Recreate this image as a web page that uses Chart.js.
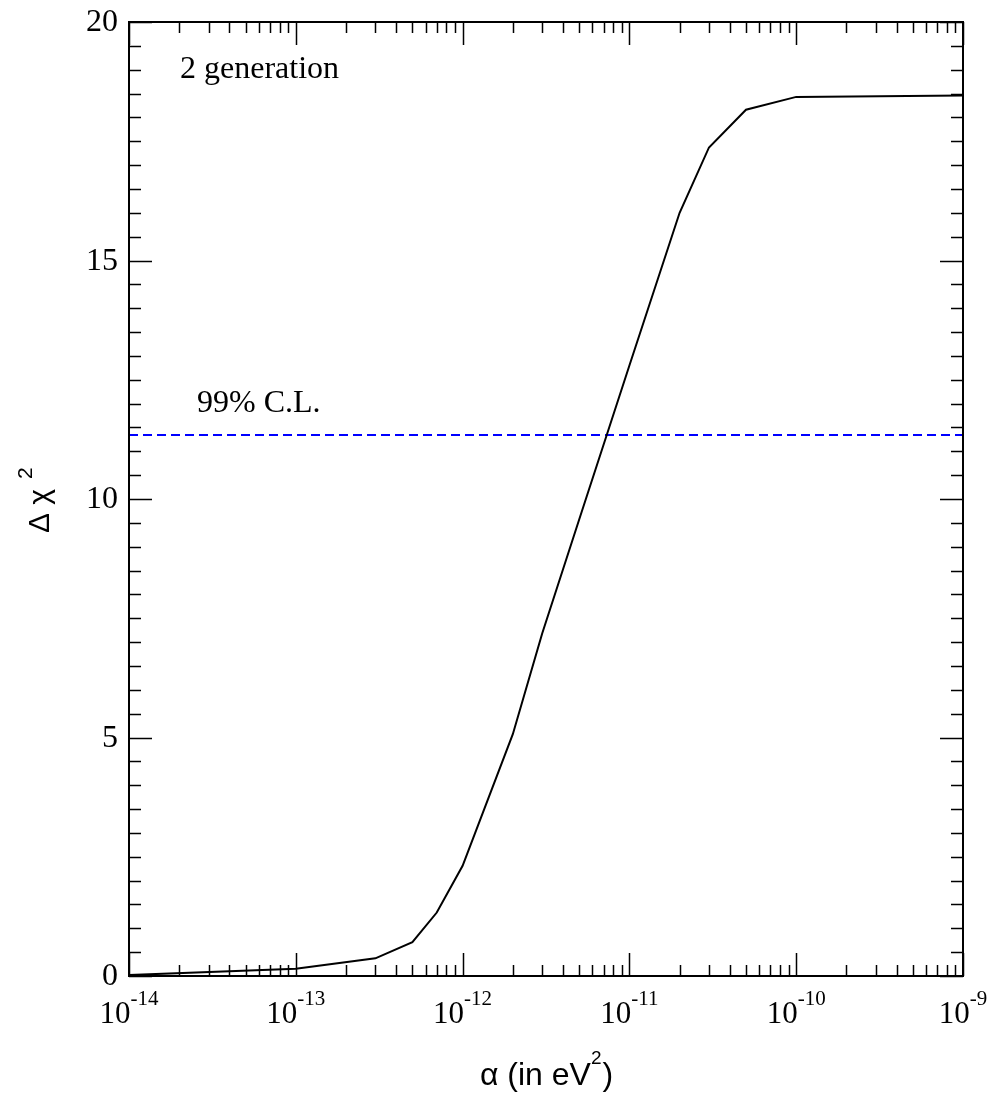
<!DOCTYPE html>
<html>
<head>
<meta charset="utf-8">
<script src="https://cdn.jsdelivr.net/npm/chart.js@4/dist/chart.umd.min.js"></script>
<style>
  html, body { margin: 0; padding: 0; background: #fff; }
  canvas { display: block; }
</style>
</head>
<body>
<canvas id="chart" width="994" height="1100"></canvas>
<script>
// curve: delta chi^2 vs alpha (eV^2)
const alphaVals = [1e-14, 1e-13, 3e-13, 5e-13, 7e-13, 1e-12, 2e-12, 3e-12, 5e-12, 1e-11, 2e-11, 3e-11, 5e-11, 1e-10, 1e-9];
const chi2Vals  = [0.02, 0.15, 0.37, 0.71, 1.33, 2.31, 5.07, 7.18, 9.57, 12.8, 16.0, 17.37, 18.16, 18.43, 18.46];

const clLevel = 11.34;
const clLabel = '99% C.L.';
const panelLabel = '2 generation';

const xDecades = [-14, -13, -12, -11, -10, -9];
const yMajor = [0, 5, 10, 15, 20];
const yMinorStep = 0.5;

const SERIF = '"Liberation Serif", "DejaVu Serif", serif';
const SANS = '"Liberation Sans", Arial, sans-serif';

// ticks inside the frame on all four sides, labels, titles
const framePlugin = {
  id: 'frame',
  afterDraw(chart) {
    const ctx = chart.ctx;
    const a = chart.chartArea;
    const xs = chart.scales.x, ys = chart.scales.y;
    ctx.save();
    ctx.strokeStyle = '#000';
    ctx.fillStyle = '#000';

    // x ticks (top and bottom)
    ctx.lineWidth = 1.5;
    ctx.beginPath();
    for (let i = 0; i < xDecades.length; i++) {
      const d = xDecades[i];
      const px = Math.round(xs.getPixelForValue(Math.pow(10, d))) + 0.5;
      ctx.moveTo(px, a.bottom); ctx.lineTo(px, a.bottom - 23);
      ctx.moveTo(px, a.top); ctx.lineTo(px, a.top + 23);
      if (i < xDecades.length - 1) {
        for (let m = 2; m <= 9; m++) {
          const q = Math.round(xs.getPixelForValue(m * Math.pow(10, d))) + 0.5;
          ctx.moveTo(q, a.bottom); ctx.lineTo(q, a.bottom - 11);
          ctx.moveTo(q, a.top); ctx.lineTo(q, a.top + 11);
        }
      }
    }
    // y ticks (left and right)
    for (let k = 0; k * yMinorStep <= 20; k++) {
      const v = k * yMinorStep;
      const py = Math.round(ys.getPixelForValue(v)) + 0.5;
      const len = yMajor.includes(v) ? 23 : 12;
      ctx.moveTo(a.left, py); ctx.lineTo(a.left + len, py);
      ctx.moveTo(a.right, py); ctx.lineTo(a.right - len, py);
    }
    ctx.stroke();

    // frame
    ctx.lineWidth = 2;
    ctx.strokeRect(a.left, a.top, a.right - a.left, a.bottom - a.top);

    // y tick labels
    ctx.font = '32px ' + SERIF;
    ctx.textAlign = 'right';
    ctx.textBaseline = 'middle';
    yMajor.forEach(v => {
      ctx.fillText(String(v), a.left - 11, ys.getPixelForValue(v) + 1);
    });

    // x tick labels: 10 with superscript exponent
    ctx.textBaseline = 'alphabetic';
    ctx.textAlign = 'left';
    xDecades.forEach(d => {
      const px = xs.getPixelForValue(Math.pow(10, d));
      ctx.font = '31px ' + SERIF;
      const wb = ctx.measureText('10').width;
      ctx.font = '21px ' + SERIF;
      const exp = String(d);
      const we = ctx.measureText(exp).width;
      const x0 = px - (wb + we) / 2;
      ctx.font = '31px ' + SERIF;
      ctx.fillText('10', x0, 1023);
      ctx.font = '21px ' + SERIF;
      ctx.fillText(exp, x0 + wb, 1005);
    });

    // x title
    ctx.font = '32px ' + SANS;
    const t1 = '\u03b1 (in eV';
    const w1 = ctx.measureText(t1).width;
    ctx.font = '19px ' + SANS;
    const w2 = ctx.measureText('2').width;
    ctx.font = '32px ' + SANS;
    const w3 = ctx.measureText(')').width;
    let tx = (a.left + a.right) / 2 - (w1 + w2 + w3) / 2;
    ctx.fillText(t1, tx, 1085);
    ctx.font = '19px ' + SANS;
    ctx.fillText('2', tx + w1, 1064);
    ctx.font = '32px ' + SANS;
    ctx.fillText(')', tx + w1 + w2 + 1, 1085);

    // y title (rotated)
    ctx.save();
    ctx.translate(49, 533);
    ctx.rotate(-Math.PI / 2);
    ctx.font = '30px ' + SANS;
    const yt = '\u0394 \u03c7';
    ctx.fillText(yt, 0, 0);
    const wy = ctx.measureText(yt).width;
    ctx.font = '21px ' + SANS;
    ctx.fillText('2', wy + 10, -17);
    ctx.restore();

    // annotations
    ctx.font = '32px ' + SERIF;
    ctx.fillText(panelLabel, 180, 78);
    ctx.fillText(clLabel, 197, 412);

    ctx.restore();
  }
};

const curvePts = alphaVals.map((x, i) => ({ x, y: chi2Vals[i] }));
const clPts = [{ x: Math.pow(10, xDecades[0]), y: clLevel }, { x: Math.pow(10, xDecades[xDecades.length - 1]), y: clLevel }];

new Chart(document.getElementById('chart'), {
  type: 'line',
  data: {
    datasets: [
      { data: curvePts, borderColor: '#000', borderWidth: 2, pointRadius: 0, tension: 0, fill: false },
      { data: clPts, borderColor: '#0000ff', borderWidth: 2, borderDash: [9, 5], pointRadius: 0, fill: false }
    ]
  },
  options: {
    responsive: false,
    animation: false,
    devicePixelRatio: 1,
    layout: { padding: { left: 121, top: 22, right: 31, bottom: 116 } },
    plugins: { legend: { display: false }, tooltip: { enabled: false } },
    scales: {
      x: {
        type: 'logarithmic', min: 1e-14, max: 1e-9,
        ticks: { display: false }, grid: { display: false }, border: { display: false }
      },
      y: {
        type: 'linear', min: 0, max: 20,
        ticks: { display: false }, grid: { display: false }, border: { display: false }
      }
    }
  },
  plugins: [framePlugin]
});
</script>
</body>
</html>
